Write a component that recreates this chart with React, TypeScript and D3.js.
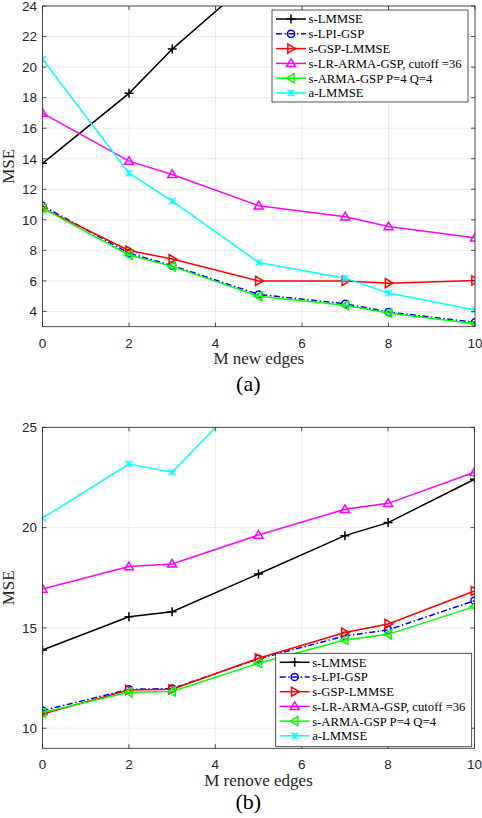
import React, { useEffect, useRef } from "react";
import * as d3 from "d3";

const xs = [0, 2, 3, 5, 7, 8, 10];

const seriesNames = [
  "s-LMMSE",
  "s-LPI-GSP",
  "s-GSP-LMMSE",
  "s-LR-ARMA-GSP, cutoff =36",
  "s-ARMA-GSP P=4 Q=4",
  "a-LMMSE",
];

// (a) M new edges
const newLmmse = [13.7, 18.28, 21.18, 26.1, 31.0, 33.5, 38.5];
const newLpi = [10.92, 7.82, 7.0, 5.11, 4.5, 3.96, 3.28];
const newGspLmmse = [10.76, 7.99, 7.43, 6.0, 6.0, 5.85, 6.03];
const newLrArma = [16.98, 13.84, 12.97, 10.92, 10.2, 9.56, 8.82];
const newArma = [10.76, 7.7, 6.95, 5.0, 4.4, 3.9, 3.2];
const newALmmse = [20.52, 13.05, 11.22, 7.2, 6.18, 5.2, 4.09];

// (b) M removed edges
const remLmmse = [13.9, 15.56, 15.81, 17.69, 19.6, 20.25, 22.41];
const remLpi = [10.88, 11.94, 11.98, 13.46, 14.6, 14.9, 16.36];
const remGspLmmse = [10.71, 11.91, 11.94, 13.49, 14.77, 15.2, 16.84];
const remLrArma = [16.94, 18.06, 18.19, 19.63, 20.91, 21.21, 22.76];
const remArma = [10.78, 11.79, 11.83, 13.24, 14.4, 14.68, 16.06];
const remALmmse = [20.47, 23.17, 22.76, 27.2, 29.5, 30.5, 32.0];

const xTicks = [0, 2, 4, 6, 8, 10];
const yTicksA = [4, 6, 8, 10, 12, 14, 16, 18, 20, 22, 24];
const yTicksB = [10, 15, 20, 25];

const styles = [
  { color: "#000000", marker: "plus", dash: null },
  { color: "#0000ff", marker: "circle", dash: "6,2.5,1.5,2.5" },
  { color: "#ff0000", marker: "triRight", dash: null },
  { color: "#ff00ff", marker: "triUp", dash: null },
  { color: "#00ff00", marker: "triLeft", dash: null },
  { color: "#00ffff", marker: "star", dash: null },
];

const serif = "'Liberation Serif', 'Times New Roman', serif";
const sans = "'Liberation Sans', Arial, sans-serif";

function drawMarker(g: d3.Selection<SVGGElement, unknown, null, undefined>, kind: string, x: number, y: number, color: string) {
  const s = 4.5;
  if (kind === "plus") {
    g.append("path").attr("d", `M${x - s},${y}H${x + s}M${x},${y - s}V${y + s}`).attr("stroke", color).attr("stroke-width", 1.5).attr("fill", "none");
  } else if (kind === "circle") {
    g.append("circle").attr("cx", x).attr("cy", y).attr("r", 3.6).attr("stroke", color).attr("stroke-width", 1.5).attr("fill", "none");
  } else if (kind === "star") {
    const k = 3.3;
    g.append("path")
      .attr("d", `M${x - k},${y - k}L${x + k},${y + k}M${x - k},${y + k}L${x + k},${y - k}M${x},${y - k}V${y + k}`)
      .attr("stroke", color).attr("stroke-width", 1.3).attr("fill", "none");
  } else {
    let pts: [number, number][];
    if (kind === "triUp") pts = [[x, y - s], [x - s, y + s * 0.7], [x + s, y + s * 0.7]];
    else if (kind === "triRight") pts = [[x + s, y], [x - s * 0.7, y - s], [x - s * 0.7, y + s]];
    else pts = [[x - s, y], [x + s * 0.7, y - s], [x + s * 0.7, y + s]];
    g.append("path").attr("d", "M" + pts.join("L") + "Z").attr("stroke", color).attr("stroke-width", 1.5).attr("fill", "none");
  }
}

interface PanelOpts {
  id: string;
  top: number;
  bottom: number;
  left: number;
  right: number;
  yDomain: [number, number];
  yTicks: number[];
  data: number[][];
  xLabel: string;
  caption: string;
  xLabelY: number;
  captionY: number;
  legend: { x: number; y: number; w: number; h: number; rowH: number };
}

function drawPanel(svg: d3.Selection<SVGSVGElement, unknown, null, undefined>, o: PanelOpts) {
  const x = d3.scaleLinear().domain([0, 10]).range([o.left, o.right]);
  const y = d3.scaleLinear().domain(o.yDomain).range([o.bottom, o.top]);
  const g = svg.append("g");

  g.append("rect").attr("x", o.left).attr("y", o.top).attr("width", o.right - o.left).attr("height", o.bottom - o.top).attr("fill", "#fff");

  // grid
  g.selectAll(null).data(xTicks).join("line")
    .attr("x1", (d) => x(d)).attr("x2", (d) => x(d)).attr("y1", o.top).attr("y2", o.bottom)
    .attr("stroke", "#e6e6e6").attr("stroke-width", 0.8);
  g.selectAll(null).data(o.yTicks).join("line")
    .attr("x1", o.left).attr("x2", o.right).attr("y1", (d) => y(d)).attr("y2", (d) => y(d))
    .attr("stroke", "#e6e6e6").attr("stroke-width", 0.8);

  const clipId = "clip-" + o.id;
  svg.append("clipPath").attr("id", clipId).append("rect")
    .attr("x", o.left).attr("y", o.top).attr("width", o.right - o.left).attr("height", o.bottom - o.top);

  const plot = g.append("g").attr("clip-path", `url(#${clipId})`);
  const line = d3.line<number>().x((_, i) => x(xs[i])).y((d) => y(d));

  o.data.forEach((vals, si) => {
    const st = styles[si];
    plot.append("path").attr("d", line(vals)!).attr("fill", "none")
      .attr("stroke", st.color).attr("stroke-width", 1.5)
      .attr("stroke-dasharray", st.dash ?? null);
    const mg = plot.append("g");
    vals.forEach((v, i) => drawMarker(mg, st.marker, x(xs[i]), y(v), st.color));
  });

  // frame and ticks
  const axisColor = "#262626";
  g.append("rect").attr("x", o.left).attr("y", o.top).attr("width", o.right - o.left).attr("height", o.bottom - o.top)
    .attr("fill", "none").attr("stroke", axisColor).attr("stroke-width", 0.8);
  const tl = 4;
  xTicks.forEach((t) => {
    g.append("line").attr("x1", x(t)).attr("x2", x(t)).attr("y1", o.bottom).attr("y2", o.bottom - tl).attr("stroke", axisColor).attr("stroke-width", 0.8);
    g.append("line").attr("x1", x(t)).attr("x2", x(t)).attr("y1", o.top).attr("y2", o.top + tl).attr("stroke", axisColor).attr("stroke-width", 0.8);
    g.append("text").attr("x", x(t)).attr("y", o.bottom + 21).attr("text-anchor", "middle")
      .attr("font-family", sans).attr("font-size", 13.5).attr("fill", axisColor).text(t);
  });
  o.yTicks.forEach((t) => {
    g.append("line").attr("x1", o.left).attr("x2", o.left + tl).attr("y1", y(t)).attr("y2", y(t)).attr("stroke", axisColor).attr("stroke-width", 0.8);
    g.append("line").attr("x1", o.right).attr("x2", o.right - tl).attr("y1", y(t)).attr("y2", y(t)).attr("stroke", axisColor).attr("stroke-width", 0.8);
    g.append("text").attr("x", o.left - 5.5).attr("y", y(t)).attr("dy", "0.36em").attr("text-anchor", "end")
      .attr("font-family", sans).attr("font-size", 13.5).attr("fill", axisColor).text(t);
  });

  g.append("text").attr("x", (o.left + o.right) / 2).attr("y", o.xLabelY).attr("text-anchor", "middle")
    .attr("font-family", serif).attr("font-size", 17).attr("fill", "#262626").text(o.xLabel);
  g.append("text").attr("transform", `translate(13.5,${(o.top + o.bottom) / 2}) rotate(-90)`).attr("text-anchor", "middle")
    .attr("font-family", serif).attr("font-size", 17).attr("fill", "#262626").text("MSE");
  g.append("text").attr("x", 248.3).attr("y", o.captionY).attr("text-anchor", "middle")
    .attr("font-family", serif).attr("font-size", 22).attr("fill", "#000").text(o.caption);

  // legend
  const L = o.legend;
  const lg = g.append("g");
  lg.append("rect").attr("x", L.x).attr("y", L.y).attr("width", L.w).attr("height", L.h)
    .attr("fill", "#fff").attr("stroke", axisColor).attr("stroke-width", 0.8);
  seriesNames.forEach((name, i) => {
    const st = styles[i];
    const cy = L.y + 9 + i * L.rowH;
    const x0 = L.x + 4;
    const x1 = L.x + 34;
    lg.append("line").attr("x1", x0).attr("x2", x1).attr("y1", cy).attr("y2", cy)
      .attr("stroke", st.color).attr("stroke-width", 1.5).attr("stroke-dasharray", st.dash ?? null);
    drawMarker(lg as any, st.marker, (x0 + x1) / 2, cy, st.color);
    lg.append("text").attr("x", x1 + 2.5).attr("y", cy).attr("dy", "0.35em")
      .attr("font-family", serif).attr("font-size", 12.7).attr("fill", "#000").text(name);
  });
}

export default function App() {
  const svgRef = useRef<SVGSVGElement | null>(null);

  useEffect(() => {
    if (!svgRef.current) return;
    const svg = d3.select(svgRef.current);
    svg.selectAll("*").remove();

    drawPanel(svg, {
      id: "a",
      top: 6,
      bottom: 326.7,
      left: 42.5,
      right: 475,
      yDomain: [3, 24],
      yTicks: yTicksA,
      data: [newLmmse, newLpi, newGspLmmse, newLrArma, newArma, newALmmse],
      xLabel: "M new edges",
      caption: "(a)",
      xLabelY: 364,
      captionY: 391,
      legend: { x: 272, y: 10, w: 196, h: 92, rowH: 14.8 },
    });

    drawPanel(svg, {
      id: "b",
      top: 427.3,
      bottom: 748.3,
      left: 42.5,
      right: 474.5,
      yDomain: [9, 25],
      yTicks: yTicksB,
      data: [remLmmse, remLpi, remGspLmmse, remLrArma, remArma, remALmmse],
      xLabel: "M renove edges",
      caption: "(b)",
      xLabelY: 786,
      captionY: 809,
      legend: { x: 275.7, y: 653.3, w: 196, h: 93.4, rowH: 14.7 },
    });
  }, []);

  return (
    <svg
      ref={svgRef}
      width={482}
      height={818}
      style={{ position: "absolute", left: 0, top: 0, background: "#fff" }}
    />
  );
}
